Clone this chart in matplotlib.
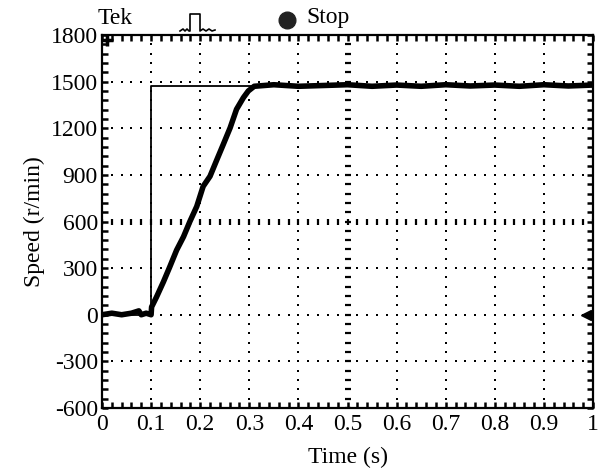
import matplotlib
matplotlib.use("Agg")
import matplotlib.pyplot as plt
from matplotlib.lines import Line2D
import numpy as np

plt.rcParams["font.family"] = ["Liberation Serif", "DejaVu Serif"]
plt.rcParams["axes.unicode_minus"] = False

t_speed = [0.0, 0.02, 0.04, 0.06, 0.075, 0.08, 0.09, 0.100, 0.101, 0.111, 0.125,
           0.138, 0.152, 0.166, 0.179, 0.193, 0.206, 0.220, 0.234, 0.247,
           0.261, 0.274, 0.288, 0.298, 0.31, 0.35, 0.40, 0.45, 0.50, 0.55,
           0.60, 0.65, 0.70, 0.75, 0.80, 0.85, 0.90, 0.95, 1.0]
v_speed = [0, 10, 0, 10, 25, 0, 10, 0, 50, 114, 211, 308, 416, 502, 600, 697,
           826, 891, 998, 1096, 1203, 1322, 1397, 1440, 1470, 1480, 1470,
           1475, 1480, 1470, 1478, 1470, 1480, 1472, 1478, 1470, 1480,
           1472, 1478]

# speed reference
t_ref = [0.0, 0.099, 0.099, 1.0]
v_ref = [0, 0, 1470, 1470]

x_major = [0, 0.1, 0.2, 0.3, 0.4, 0.5, 0.6, 0.7, 0.8, 0.9, 1.0]
x_labels = ["0", "0.1", "0.2", "0.3", "0.4", "0.5", "0.6", "0.7", "0.8", "0.9", "1"]
y_major = [-600, -300, 0, 300, 600, 900, 1200, 1500, 1800]

fig = plt.figure(figsize=(6.08, 4.68), dpi=100)
ax = fig.add_axes([102 / 608, 1 - 408 / 468, 491 / 608, 373 / 468])

x_minor = np.arange(0, 1.0001, 0.02)
y_minor = np.arange(-600, 1800.1, 60)

# oscilloscope graticule
for xv in x_major[1:-1]:
    if xv == 0.5:
        ax.plot([xv] * len(y_minor), y_minor, ls="none", marker="_", ms=4,
                mew=1.6, color="black")
    else:
        ax.plot([xv] * len(y_minor), y_minor, ls="none", marker="s", ms=1.8,
                mew=0, color="black")
for yv in y_major[1:-1]:
    if yv == 600:
        ax.plot(x_minor, [yv] * len(x_minor), ls="none", marker="|", ms=4,
                mew=1.6, color="black")
    else:
        ax.plot(x_minor, [yv] * len(x_minor), ls="none", marker="s", ms=1.8,
                mew=0, color="black")

ax.plot(t_ref, v_ref, color="black", lw=1.3)
ax.plot(t_speed, v_speed, color="black", lw=4)

# channel / trigger markers
ax.plot([0.985], [0], marker="<", ms=7, color="black", clip_on=False)
ax.plot([0.01], [1770], marker="+", ms=8, mew=2.5, color="black", clip_on=False)

ax.set_xlim(0, 1)
ax.set_ylim(-600, 1800)
ax.set_xticks(x_major)
ax.set_xticklabels(x_labels)
ax.set_yticks(y_major)
ax.set_xticks(x_minor, minor=True)
ax.set_yticks(y_minor, minor=True)
ax.tick_params(which="both", direction="in", top=True, right=True,
               length=4, width=1.8, labelsize=17)
ax.tick_params(axis="x", pad=4)
ax.tick_params(axis="y", pad=3)
for s in ax.spines.values():
    s.set_linewidth(1.6)

ax.set_xlabel("Time (s)", fontsize=17, labelpad=9)
ax.set_ylabel("Speed (r/min)", fontsize=17, labelpad=4)

# scope header
fig.text(98 / 608, 1 - 18 / 468, "Tek", fontsize=17, va="center", ha="left")
fig.text(306 / 608, 1 - 18 / 468, "Stop", fontsize=17, va="center", ha="left")
fig.add_artist(Line2D([287 / 608], [1 - 20 / 468], marker="o", ms=12,
                      color="#222222", transform=fig.transFigure))
px = [180, 183, 185, 187, 189, 190, 190, 200, 200, 203, 206, 209, 212, 215]
py = [31, 29, 31, 29, 31, 31, 14, 14, 31, 29, 31, 29, 31, 30]
fig.add_artist(Line2D([p / 608 for p in px], [1 - p / 468 for p in py],
                      color="black", lw=1.2, transform=fig.transFigure))

fig.savefig("out.png", dpi=100)
